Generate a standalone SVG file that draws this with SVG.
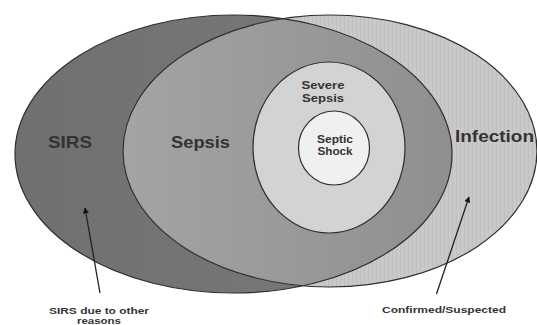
<svg xmlns="http://www.w3.org/2000/svg" width="537" height="325" viewBox="0 0 537 325">
<style>
.edge{stroke:#2e2e2e;stroke-width:1.2}
.lbl{font-family:"Liberation Sans",Arial,sans-serif;font-weight:bold;fill:#333;text-anchor:middle}
.big{font-size:16.5px}
.mid{font-size:10.5px}
.sm{font-size:9.5px}
.conn{stroke:#222;stroke-width:1.3;fill:none;marker-end:url(#ah)}
</style>
<defs>
<pattern id="stripes" width="4" height="10" patternUnits="userSpaceOnUse">
<rect width="4" height="10" fill="#c9c9c9"/>
<rect x="0" width="1" height="10" fill="#c0c0c0"/>
</pattern>
<linearGradient id="sirsG" x1="0" x2="1" y1="0" y2="0">
<stop offset="0" stop-color="#707070"/>
<stop offset="1" stop-color="#7a7a7a"/>
</linearGradient>
<linearGradient id="sepG" gradientUnits="userSpaceOnUse" x1="122" x2="452" y1="0" y2="0">
<stop offset="0" stop-color="#a4a4a4"/>
<stop offset="1" stop-color="#8f8f8f"/>
</linearGradient>
<clipPath id="sirsClip"><ellipse cx="233.5" cy="154" rx="218.5" ry="139"/></clipPath>
<marker id="ah" viewBox="0 0 10 10" refX="9" refY="5" markerWidth="6" markerHeight="6" orient="auto" markerUnits="userSpaceOnUse">
<path d="M0,0 L10,5 L0,10 z" fill="#111"/>
</marker>
</defs>
<rect width="537" height="325" fill="#fff"/>
<g id="SIRS">
<ellipse cx="233.5" cy="154" rx="218.5" ry="139" fill="url(#sirsG)"/>
</g>
<g id="Infection">
<ellipse cx="330" cy="151" rx="207" ry="136" fill="url(#stripes)"/>
</g>
<g id="Sepsis">
<ellipse cx="330" cy="151" rx="207" ry="136" fill="url(#sepG)" clip-path="url(#sirsClip)"/>
</g>
<g id="outlines">
<ellipse class="edge" cx="233.5" cy="154" rx="218.5" ry="139" fill="none"/>
<ellipse class="edge" cx="330" cy="151" rx="207" ry="136" fill="none"/>
</g>
<g id="SevereSepsis">
<ellipse class="edge" cx="329" cy="147.5" rx="76" ry="85.5" fill="#d3d3d3"/>
<text class="lbl mid" x="323" y="89" textLength="43" lengthAdjust="spacingAndGlyphs">Severe</text>
<text class="lbl mid" x="323" y="101.5" textLength="42" lengthAdjust="spacingAndGlyphs">Sepsis</text>
</g>
<g id="SepticShock">
<ellipse class="edge" cx="334" cy="148" rx="35.5" ry="37" fill="#f0f0f0"/>
<text class="lbl" font-size="10.5" x="335" y="143" textLength="36" lengthAdjust="spacingAndGlyphs">Septic</text>
<text class="lbl" font-size="10.5" x="335" y="154.5" textLength="35" lengthAdjust="spacingAndGlyphs">Shock</text>
</g>
<g id="labels">
<text class="lbl big" x="70" y="148" textLength="44" lengthAdjust="spacingAndGlyphs">SIRS</text>
<text class="lbl big" x="200.5" y="148" textLength="59" lengthAdjust="spacingAndGlyphs">Sepsis</text>
<text class="lbl big" x="494.5" y="142" textLength="79" lengthAdjust="spacingAndGlyphs">Infection</text>
<text class="lbl sm" x="99" y="314" textLength="100" lengthAdjust="spacingAndGlyphs">SIRS due to other</text>
<text class="lbl sm" x="99" y="324" textLength="44" lengthAdjust="spacingAndGlyphs">reasons</text>
<text class="lbl sm" x="444" y="313" textLength="124" lengthAdjust="spacingAndGlyphs">Confirmed/Suspected</text>
</g>
<g id="connectors">
<line class="conn" x1="100" y1="293" x2="85" y2="208"/>
<line class="conn" x1="436.5" y1="294" x2="469" y2="197"/>
</g>
</svg>
